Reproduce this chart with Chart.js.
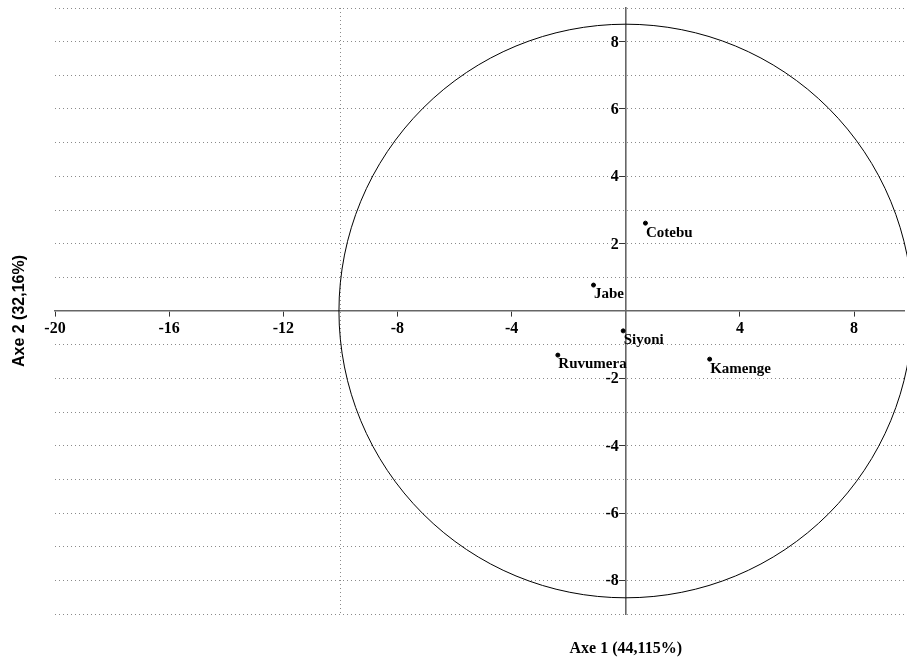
<!DOCTYPE html>
<html>
<head>
<meta charset="utf-8">
<script src="https://cdn.jsdelivr.net/npm/chart.js@4.4.1/dist/chart.umd.min.js"></script>
<style>
  html, body { margin: 0; padding: 0; background: #fff; }
  #wrap { width: 907px; height: 660px; position: relative; }
</style>
</head>
<body>
<div id="wrap"><canvas id="acp"></canvas></div>
<script>
// Individuals on the first factorial plane
const sites = ["Cotebu", "Jabe", "Siyoni", "Ruvumera", "Kamenge"];
const axe1 = [0.69, -1.13, -0.09, -2.38, 2.94];
const axe2 = [2.61, 0.77, -0.59, -1.31, -1.43];

// Axis ticks (labelled) and extra grid lines
const xTicks = [-20, -16, -12, -8, -4, 4, 8];
const xGridOnly = [-10];
const yTicks = [-8, -6, -4, -2, 2, 4, 6, 8];
const yGrid = [-9, -8, -7, -6, -5, -4, -3, -2, -1, 1, 2, 3, 4, 5, 6, 7, 8, 9];

const xTitle = "Axe 1 (44,115%)";
const yTitle = "Axe 2 (32,16%)";
const circleRadius = 10.05; // in Axe 1 units

const serif = "'Liberation Serif', 'Times New Roman', serif";
const sans = "'Liberation Sans', Arial, sans-serif";
const gridColor = "#8a8a8a";
const axisColor = "#666";

// correlation circle centred on the origin
const circlePlugin = {
  id: "circle",
  beforeDatasetsDraw(chart) {
    const { ctx, scales: { x, y } } = chart;
    const cx = x.getPixelForValue(0);
    const cy = y.getPixelForValue(0);
    const r = x.getPixelForValue(circleRadius) - cx;
    ctx.save();
    ctx.strokeStyle = "#000";
    ctx.lineWidth = 1;
    ctx.beginPath();
    ctx.arc(cx, cy, r, 0, Math.PI * 2);
    ctx.stroke();
    ctx.restore();
  },
};

// point names, y tick labels (left of the crossing axis) and axis titles
const labelPlugin = {
  id: "labels",
  afterDatasetsDraw(chart) {
    const { ctx, scales: { x, y } } = chart;
    const meta = chart.getDatasetMeta(0);
    const x0 = x.getPixelForValue(0);
    const y0 = y.getPixelForValue(0);
    ctx.save();
    ctx.fillStyle = "#000";

    ctx.font = "bold 16px " + serif;
    ctx.textAlign = "right";
    ctx.textBaseline = "middle";
    yTicks.forEach((v) => {
      ctx.fillText(String(v), x0 - 7, y.getPixelForValue(v) + 1);
    });

    ctx.font = "bold 15px " + serif;
    ctx.textBaseline = "top";
    ctx.textAlign = "left";
    meta.data.forEach((pt, i) => {
      ctx.fillText(sites[i], pt.x + 0.5, pt.y + 2);
    });

    ctx.font = "bold 16px " + serif;
    ctx.textAlign = "center";
    ctx.textBaseline = "middle";
    ctx.fillText(xTitle, x0, 649);

    ctx.font = "bold 16px " + sans;
    ctx.translate(20, y0);
    ctx.rotate(-Math.PI / 2);
    ctx.fillText(yTitle, 0, 0);
    ctx.restore();
  },
};

new Chart(document.getElementById("acp"), {
  type: "scatter",
  data: {
    datasets: [
      {
        data: axe1.map((v, i) => ({ x: v, y: axe2[i] })),
        backgroundColor: "#000",
        borderColor: "#000",
        pointRadius: 2,
        pointHoverRadius: 2,
      },
    ],
  },
  options: {
    responsive: true,
    maintainAspectRatio: false,
    animation: false,
    layout: {
      padding: { left: 55, right: 0, top: 8, bottom: 46 },
    },
    plugins: {
      legend: { display: false },
      tooltip: { enabled: false },
    },
    scales: {
      x: {
        type: "linear",
        min: -20,
        max: 9.75,
        position: { y: 0 },
        afterBuildTicks: (scale) => {
          scale.ticks = xTicks.concat(xGridOnly).sort((a, b) => a - b).map((v) => ({ value: v }));
        },
        border: {
          color: axisColor,
          width: 1.6,
          dash: [1, 3],
        },
        grid: {
          color: (c) => (xGridOnly.includes(c.tick.value) ? gridColor : "rgba(0,0,0,0)"),
          tickColor: (c) => (xTicks.includes(c.tick.value) ? "#333" : "rgba(0,0,0,0)"),
          tickLength: 5,
          tickBorderDash: [],
          lineWidth: 1,
        },
        ticks: {
          autoSkip: false,
          maxRotation: 0,
          padding: 3,
          color: "#000",
          font: { family: serif, size: 16, weight: "bold" },
          callback: (v) => (xTicks.includes(v) ? String(v) : ""),
        },
      },
      y: {
        type: "linear",
        min: -9,
        max: 9,
        position: { x: 0 },
        afterBuildTicks: (scale) => {
          scale.ticks = yGrid.map((v) => ({ value: v }));
        },
        border: {
          color: axisColor,
          width: 1.6,
          dash: [1, 3],
        },
        grid: {
          color: gridColor,
          tickColor: (c) => (yTicks.includes(c.tick.value) ? "#333" : "rgba(0,0,0,0)"),
          tickLength: 6,
          tickBorderDash: [],
          lineWidth: 1,
        },
        ticks: {
          display: false,
        },
      },
    },
  },
  plugins: [circlePlugin, labelPlugin],
});
</script>
</body>
</html>
